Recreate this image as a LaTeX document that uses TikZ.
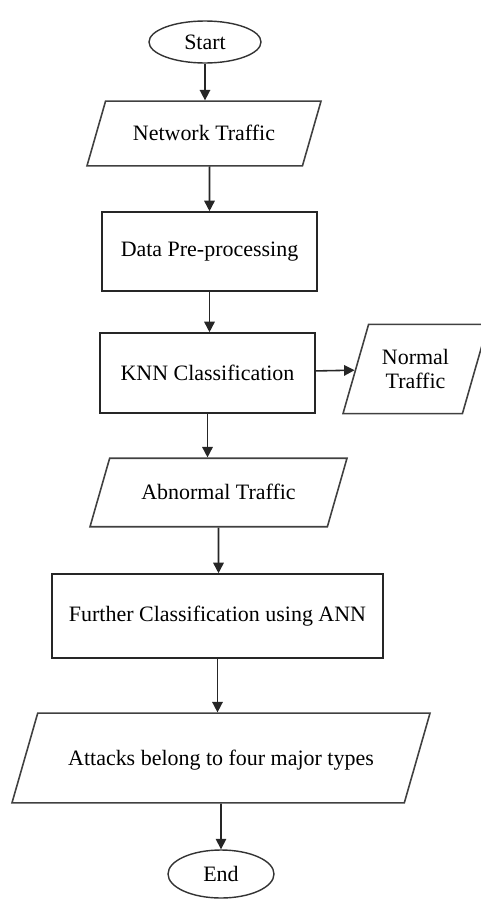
\documentclass[tikz,border=0pt]{standalone}
\usepackage{fontspec}
\setmainfont{Liberation Serif}
\usetikzlibrary{shapes.geometric,arrows.meta}
\tikzset{
  arr/.style={draw=black!85, line width=0.9pt, -{Triangle[length=6pt,width=6pt]}},
  term/.style={ellipse, draw=black!80, line width=0.8pt, inner sep=0pt},
  procbox/.style={rectangle, draw=black!85, line width=0.9pt, inner sep=2pt},
  iobox/.style={trapezium, trapezium left angle=74, trapezium right angle=106,
    trapezium stretches body=true, draw=black!75, line width=0.9pt,
    inner xsep=1pt, align=center},
  oneline/.style={text height=10pt, text depth=2pt}
}
\begin{document}
\begin{tikzpicture}[scale=1, font=\fontsize{12.5}{14}\selectfont]
    \useasboundingbox (0, 0) rectangle (9.62, -17.98);
    \node[term, minimum width=2.24cm, minimum height=0.84cm] (start) at (4.10, -0.84) {Start};
    \node[iobox, oneline, inner ysep=12.4pt, minimum width=4.68cm] (net) at (4.08, -2.67) {Network Traffic};
    \node[procbox, minimum width=4.30cm, minimum height=1.58cm] (pre) at (4.19, -5.03) {Data Pre-processing};
    \node[procbox, minimum width=4.30cm, minimum height=1.60cm] (knn) at (4.15, -7.46) {KNN Classification};
    \node[iobox, inner ysep=14pt, minimum width=2.90cm] (normal) at (8.31, -7.38) {Normal\\Traffic};
    \node[iobox, oneline, inner ysep=13.5pt, minimum width=5.14cm] (abn) at (4.37, -9.85) {Abnormal Traffic};
    \node[procbox, minimum width=6.62cm, minimum height=1.68cm] (ann) at (4.35, -12.32) {Further Classification using ANN};
    \node[iobox, oneline, inner ysep=19.5pt, minimum width=8.36cm] (att) at (4.42, -15.16) {Attacks belong to four major types};
    \node[term, minimum width=2.12cm, minimum height=0.96cm] (end) at (4.42, -17.48) {End};
    \draw[arr] (start) -- (start |- net.north);
    \draw[arr] (net) -- (net.south -| pre.north) -- (pre.north);
    \draw[arr] (pre) -- (pre |- knn.north);
    \draw[arr] (knn) -- (normal);
    \draw[arr] (knn) -- (knn |- abn.north);
    \draw[arr] (abn) -- (abn |- ann.north);
    \draw[arr] (ann) -- (ann |- att.north);
    \draw[arr] (att) -- (end);
  \end{tikzpicture}
\end{document}
